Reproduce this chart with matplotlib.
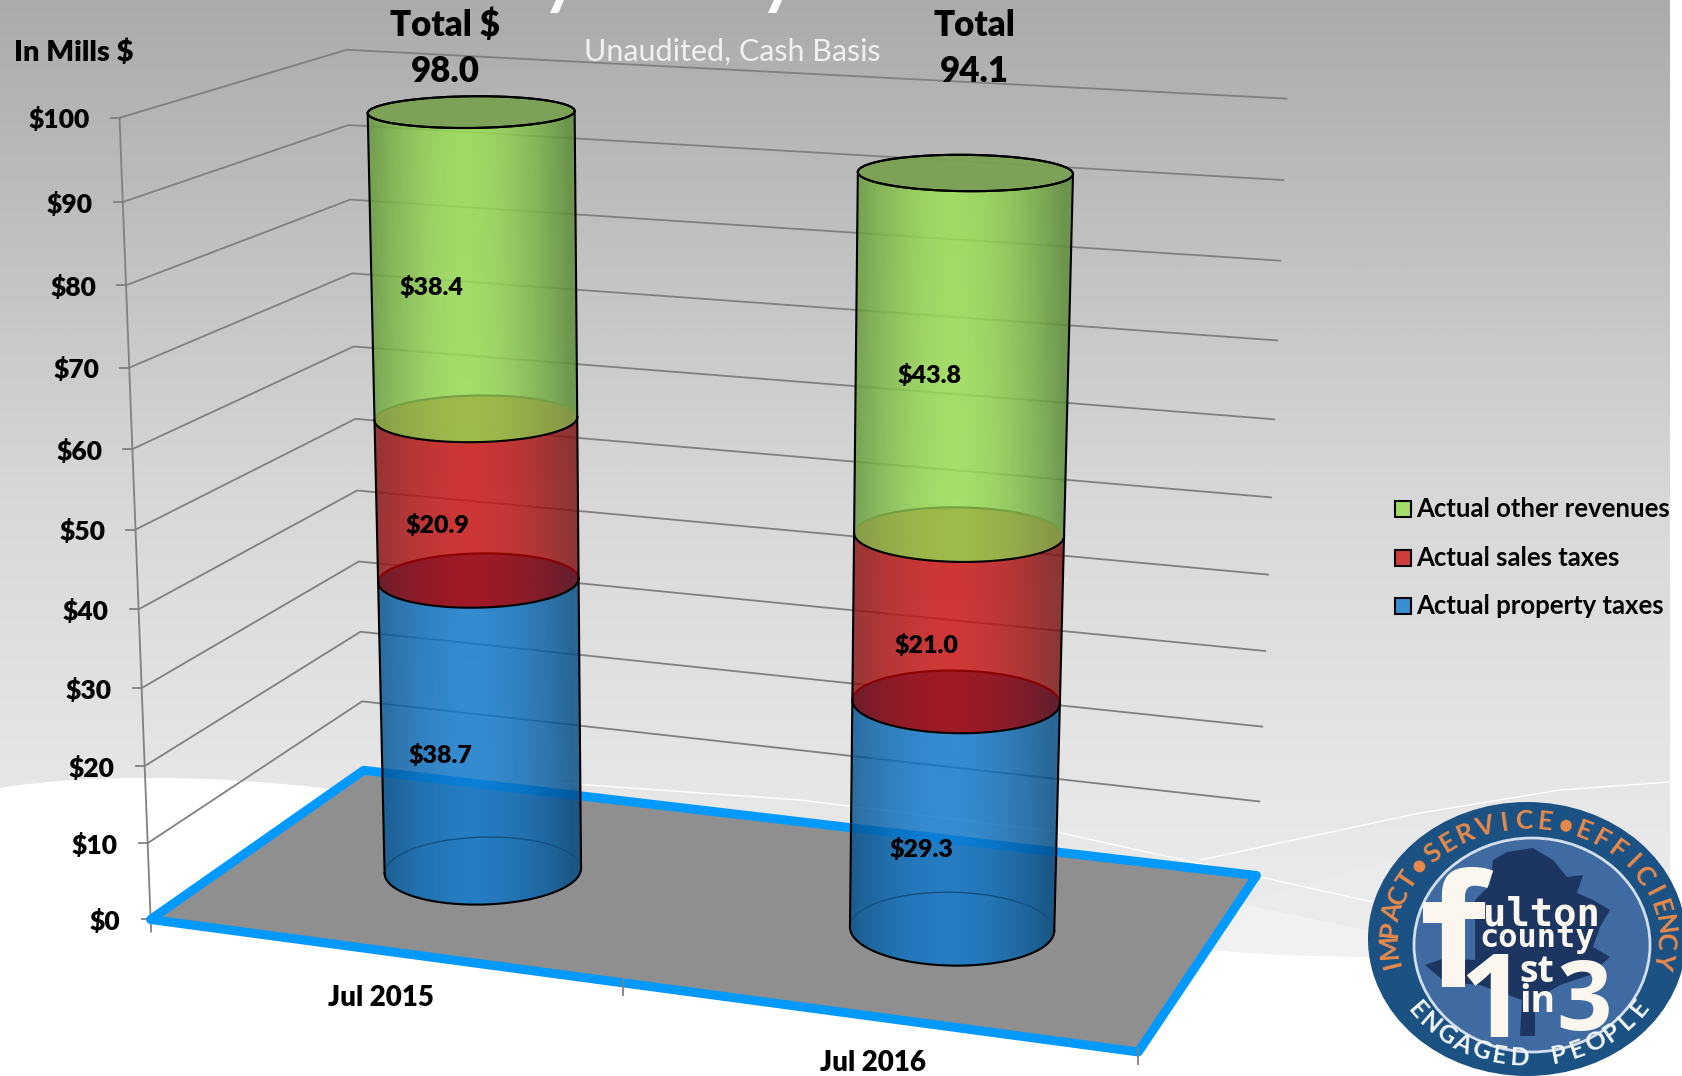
import numpy as np
import matplotlib
matplotlib.use('Agg')
import matplotlib.pyplot as plt
from matplotlib.patches import Polygon, Ellipse, Rectangle, PathPatch
from matplotlib.path import Path
from matplotlib.colors import LinearSegmentedColormap

# chart data (millions $)
categories = ['Jul 2015', 'Jul 2016']
property_taxes = [38.7, 29.3]
sales_taxes = [20.9, 21.0]
other_revenues = [38.4, 43.8]
totals = [98.0, 94.1]
total_heads = ['Total $', 'Total']
y_ticks = [0, 10, 20, 30, 40, 50, 60, 70, 80, 90, 100]
legend_names = ['Actual other revenues', 'Actual sales taxes', 'Actual property taxes']

W, H = 1682, 1076
FONT = 'Lato'
HEAVY = 'heavy'

fig = plt.figure(figsize=(W / 100, H / 100), dpi=100)
ax = fig.add_axes([0, 0, 1, 1])
ax.set_axis_off()
ax.set_autoscale_on(False)

# 3d chart box -> picture: camera fitted on corners seen in the reference
# (u along categories, v depth, z value) -> pixel
refs = [
    (0, 0, 0, 150, 919), (0, 0, 100, 119, 118), (0, 0, 90, 123, 202), (0, 0, 70, 129.5, 367),
    (0, 0, 60, 132.6, 449), (0, 0, 30, 143, 687), (0, 1, 100, 346, 50), (0, 1, 10, 362, 702),
    (0, 1, 0, 364, 770), (1, 1, 100, 1287, 99), (1, 1, 10, 1260, 801), (1, 1, 0, 1256, 875),
    (1, 0, 0, 1138, 1051), (0.5, 0, 0, 622, 986),
]
A, b = [], []
for u, v, z, px, py in refs:
    z = z / 100
    px, py = px / 1000, py / 1000
    A.append([u, v, z, 1, 0, 0, 0, 0, -px * u, -px * v, -px * z])
    A.append([0, 0, 0, 0, u, v, z, 1, -py * u, -py * v, -py * z])
    b += [px, py]
cam = np.linalg.lstsq(np.array(A), np.array(b), rcond=None)[0]
cam = np.append(cam, 1).reshape(3, 4)


def proj(u, v, z):
    u, v, z = np.broadcast_arrays(u, v, z / 100)
    q = cam @ np.array([u, v, z, np.ones_like(u)], dtype=float)
    return q[0] / q[2] * 1000, q[1] / q[2] * 1000


def floor_uv(px, py):
    q = np.linalg.solve(cam[:, [0, 1, 3]], [px / 1000, py / 1000, 1])
    return q[0] / q[2], q[1] / q[2]


# background
bg = LinearSegmentedColormap.from_list('bg', [(0, '#ababab'), (0.5, '#d8d8d8'), (0.8, '#e7e7e7'), (1, '#eeeeee')])
ax.imshow(np.linspace(0, 1, 512).reshape(-1, 1), cmap=bg, extent=(0, 1670, 1000, 0), aspect='auto', zorder=0)
ax.add_patch(Polygon([(1200, 895), (1375, 932), (1375, 960), (1200, 960)], fc='#f1f1f1', ec='none', zorder=0.5))
ax.add_patch(Polygon([(1240, 903), (1400, 858), (1400, 940)], fc='#ebebeb', ec='none', zorder=0.4))
white_verts = [(0, 788), (80, 775), (200, 773), (340, 790), (650, 825), (950, 955), (1370, 957),
               (1670, 957), (1670, 1076), (0, 1076), (0, 788)]
white_codes = [Path.MOVETO] + [Path.CURVE4] * 6 + [Path.LINETO] * 3 + [Path.CLOSEPOLY]
ax.add_patch(PathPatch(Path(white_verts, white_codes), fc='white', ec='none', zorder=0.6))
ax.add_patch(Rectangle((1670, 0), 12, H, fc='white', ec='none', zorder=0.7))
ax.plot([560, 800, 1057, 1373], [783, 800, 832, 902], color='white', lw=1, zorder=0.8)
ax.plot([1200, 1420, 1560, 1670], [860, 813, 790, 782], color='white', lw=1, zorder=0.8)

# title remains and subtitle
ax.text(560, 1, 'y', color='white', fontsize=50, fontweight='bold', family=FONT, ha='center', va='baseline')
ax.text(778, 1, 'y', color='white', fontsize=50, fontweight='bold', family=FONT, ha='center', va='baseline')
ax.text(732, 52, 'Unaudited, Cash Basis', color='#f0f0f0', fontsize=22, family=FONT, ha='center', va='center')

# gridlines on the walls
grid_c = '#808080'
for t in y_ticks[1:]:
    xs, ys = proj(np.array([0, 0, 1]), np.array([0, 1, 1]), np.array([t, t, t]))
    ax.plot(xs, ys, color=grid_c, lw=1.3, zorder=1)
x0, y0 = proj(0, 0, 0)
x1, y1 = proj(0, 0, 100)
ax.plot([x1, x0 + 0.5], [y1, y0 + 12], color=grid_c, lw=1.3, zorder=1)
for t in y_ticks:
    tx, ty = proj(0, 0, t)
    ax.plot([tx - 9, tx], [ty, ty], color=grid_c, lw=1.3, zorder=1)
    ax.text(tx - 30, ty + 2, f'${t}', fontsize=19, fontweight=HEAVY, family=FONT, ha='right', va='center')

# floor
corners = np.array(proj(np.array([0, 1, 1, 0]), np.array([0, 0, 1, 1]), np.zeros(4))).T
ax.add_patch(Polygon(corners, closed=True, fc='#8f8f8f', ec='#0099ff', lw=6.5, joinstyle='round', zorder=2))
for u in (0.5, 1):
    tx, ty = proj(u, 0, 0)
    ax.plot([tx, tx], [ty - 4, ty + 12], color=grid_c, lw=1.3, zorder=2.1)

# cylinders
base_px = [(483, 870), (952, 928)]
ru, rv = 0.1, 0.205
tt = np.linspace(0, 2 * np.pi, 361)[:-1]
colors = {
    'blue': ((15, 121, 205), (0, 75, 133)),
    'red': ((205, 19, 19), (124, 17, 17)),
    'green': ((156, 226, 85), (90, 140, 52)),
}


def ring(cu, cv, z):
    return np.array(proj(cu + ru * np.cos(tt), cv + rv * np.sin(tt), np.full_like(tt, z))).T


def arcs(pts):
    # split a projected circle in its front and back arc, both left to right
    pts = np.roll(pts, -int(np.argmin(pts[:, 0])), axis=0)
    k = int(np.argmax(pts[:, 0]))
    one, two = pts[:k + 1], np.vstack([pts[k:], pts[:1]])[::-1]
    if one[:, 1].mean() > two[:, 1].mean():
        return one, two
    return two, one


def shaded(verts, center, edge, alpha, zorder):
    # horizontal shading of the cylinder, clipped to its outline
    s = np.linspace(-1, 1, 256)
    f = np.clip(1 - np.abs(s + 0.08) ** 1.7, 0, 1)[None, :, None]
    rgb = (np.array(edge) + (np.array(center) - np.array(edge)) * f) / 255
    img = np.dstack([rgb, np.full((1, 256), alpha)])
    patch = Polygon(verts, closed=True, transform=ax.transData, fc='none', ec='none')
    ax.add_patch(patch)
    im = ax.imshow(img, extent=(verts[:, 0].min(), verts[:, 0].max(), verts[:, 1].max(), verts[:, 1].min()),
                   aspect='auto', interpolation='bilinear', zorder=zorder)
    im.set_clip_path(patch)


for i in range(2):
    cu, cv = floor_uv(*base_px[i])
    levels = [0, property_taxes[i], property_taxes[i] + sales_taxes[i], totals[i]]
    names = ['blue', 'red', 'green']
    rings = [ring(cu, cv, z) for z in levels]
    for k, name in enumerate(names):
        fb, _ = arcs(rings[k])
        ft, _ = arcs(rings[k + 1])
        verts = np.vstack([fb, ft[::-1]])
        shaded(verts, colors[name][0], colors[name][1], 0.82, 3 + k * 0.1)
        ax.plot([fb[0, 0], ft[0, 0]], [fb[0, 1], ft[0, 1]], color='black', lw=1.5, zorder=5)
        ax.plot([fb[-1, 0], ft[-1, 0]], [fb[-1, 1], ft[-1, 1]], color='black', lw=1.5, zorder=5)
    # base of the blue part
    front, back = arcs(rings[0])
    ax.plot(back[:, 0], back[:, 1], color='#145080', lw=1, zorder=4)
    ax.plot(front[:, 0], front[:, 1], color='black', lw=1.5, zorder=5)
    # blue / red joint
    front, back = arcs(rings[1])
    shaded(rings[1], (158, 24, 38), (100, 30, 45), 0.95, 4)
    ax.plot(back[:, 0], back[:, 1], color='#8b0000', lw=1.5, zorder=4.5)
    ax.plot(front[:, 0], front[:, 1], color='black', lw=1.5, zorder=5)
    # red / green joint
    front, back = arcs(rings[2])
    shaded(rings[2], (158, 186, 75), (135, 150, 70), 0.95, 4)
    ax.plot(back[:, 0], back[:, 1], color='#74a044', lw=1.5, zorder=4.5)
    ax.plot(front[:, 0], front[:, 1], color='black', lw=1.5, zorder=5)
    # top of the cylinder
    ax.add_patch(Polygon(rings[3], closed=True, fc='#7aa052', ec='black', lw=1.5, alpha=0.95, zorder=4))
    ax.add_patch(Polygon(rings[3], closed=True, fc='none', ec='black', lw=1.5, zorder=5))

# labels on the cylinders
value_pos = [[(431, 287), (437, 525), (440, 755)], [(929, 376), (926, 646), (921, 850)]]
for i in range(2):
    vals = [other_revenues[i], sales_taxes[i], property_taxes[i]]
    for (x, y), val in zip(value_pos[i], vals):
        ax.text(x, y, f'${val:.1f}', fontsize=18, fontweight=HEAVY, family=FONT, ha='center', va='center', zorder=6)

for x, y1, head, total in zip([445, 974], [25, 25], total_heads, totals):
    ax.text(x, y1, head, fontsize=25, fontweight=HEAVY, family=FONT, ha='center', va='center', zorder=6)
    ax.text(x, y1 + 47, f'{total:.1f}', fontsize=25, fontweight=HEAVY, family=FONT, ha='center', va='center', zorder=6)

ax.text(14, 53, 'In Mills $', fontsize=21, fontweight=HEAVY, family=FONT, ha='left', va='center')
ax.text(381, 998, categories[0], fontsize=20, fontweight=HEAVY, family=FONT, ha='center', va='center')
ax.text(873, 1063, categories[1], fontsize=20, fontweight=HEAVY, family=FONT, ha='center', va='center')

# legend
leg_colors = ['#a3db6a', '#d03b3b', '#3a8fd2']
for name, c, y in zip(legend_names, leg_colors, [509, 558, 606]):
    ax.add_patch(Rectangle((1395, y - 8), 16, 16, fc=c, ec='black', lw=1.5, zorder=6))
    ax.text(1416, y, name, fontsize=18.5, fontweight='bold', family=FONT, ha='left', va='center', zorder=6)

# county logo
cx, cy = 1527, 939
ax.add_patch(Ellipse((cx, cy), 318, 274, fc='#1b5283', ec='none', zorder=7))
ax.add_patch(Ellipse((1532, 945), 236, 214, fc='#3f6aa2', ec='#d4deec', lw=2, zorder=7.1))
tree = [(1493, 860), (1507, 852), (1533, 848), (1553, 860), (1567, 877), (1583, 875), (1577, 893), (1593, 900),
        (1610, 910), (1600, 927), (1593, 947), (1610, 957), (1590, 975), (1560, 985), (1535, 1000),
        (1535, 1036), (1520, 1036), (1522, 1000), (1480, 985), (1445, 982), (1425, 965), (1445, 958),
        (1475, 960), (1475, 900), (1490, 885)]
ax.add_patch(Polygon(tree, closed=True, fc='#1c3561', ec='none', zorder=7.2))


def ring_text(text, start, end, rx, ry, color, size):
    for ch, th in zip(text, np.radians(np.linspace(start, end, len(text)))):
        if end < start:
            rot = np.degrees(np.arctan2(-ry * np.cos(th), rx * np.sin(th)))
        else:
            rot = np.degrees(np.arctan2(ry * np.cos(th), -rx * np.sin(th)))
        ax.text(cx + rx * np.cos(th), cy - ry * np.sin(th), ch, color=color, fontsize=size, fontweight='bold',
                family=FONT, rotation=rot, rotation_mode='anchor', ha='center', va='center', zorder=8, clip_on=True)


ring_text('IMPACT•SERVICE•EFFICIENCY', 192, -10, 138, 118, '#e8894a', 19)
ring_text('ENGAGED PEOPLE', 217, 325, 137, 119, '#f4f7fb', 18)

cream = '#fbf7ee'
lg = dict(color=cream, fontweight='bold', family='Open Sans', zorder=8, ha='center', va='baseline')
ax.add_patch(Rectangle((1423, 902), 40, 21, fc=cream, ec='none', zorder=8))
ax.text(1456, 987, 'f', fontsize=112, **lg)
ax.text(1541, 925, 'ulton', fontsize=28, **dict(lg, family='DejaVu Sans Mono'))
ax.text(1537, 947, 'county', fontsize=23, **dict(lg, family='DejaVu Sans Mono'))
ax.text(1492, 1037, '1', fontsize=84, **lg)
ax.text(1537, 982, 'st', fontsize=27, **lg)
ax.text(1537, 1012, 'in', fontsize=27, **lg)
ax.text(1584, 1030, '3', fontsize=70, **lg)

ax.set_xlim(0, W)
ax.set_ylim(H, 0)
fig.savefig('out.png', dpi=100)
